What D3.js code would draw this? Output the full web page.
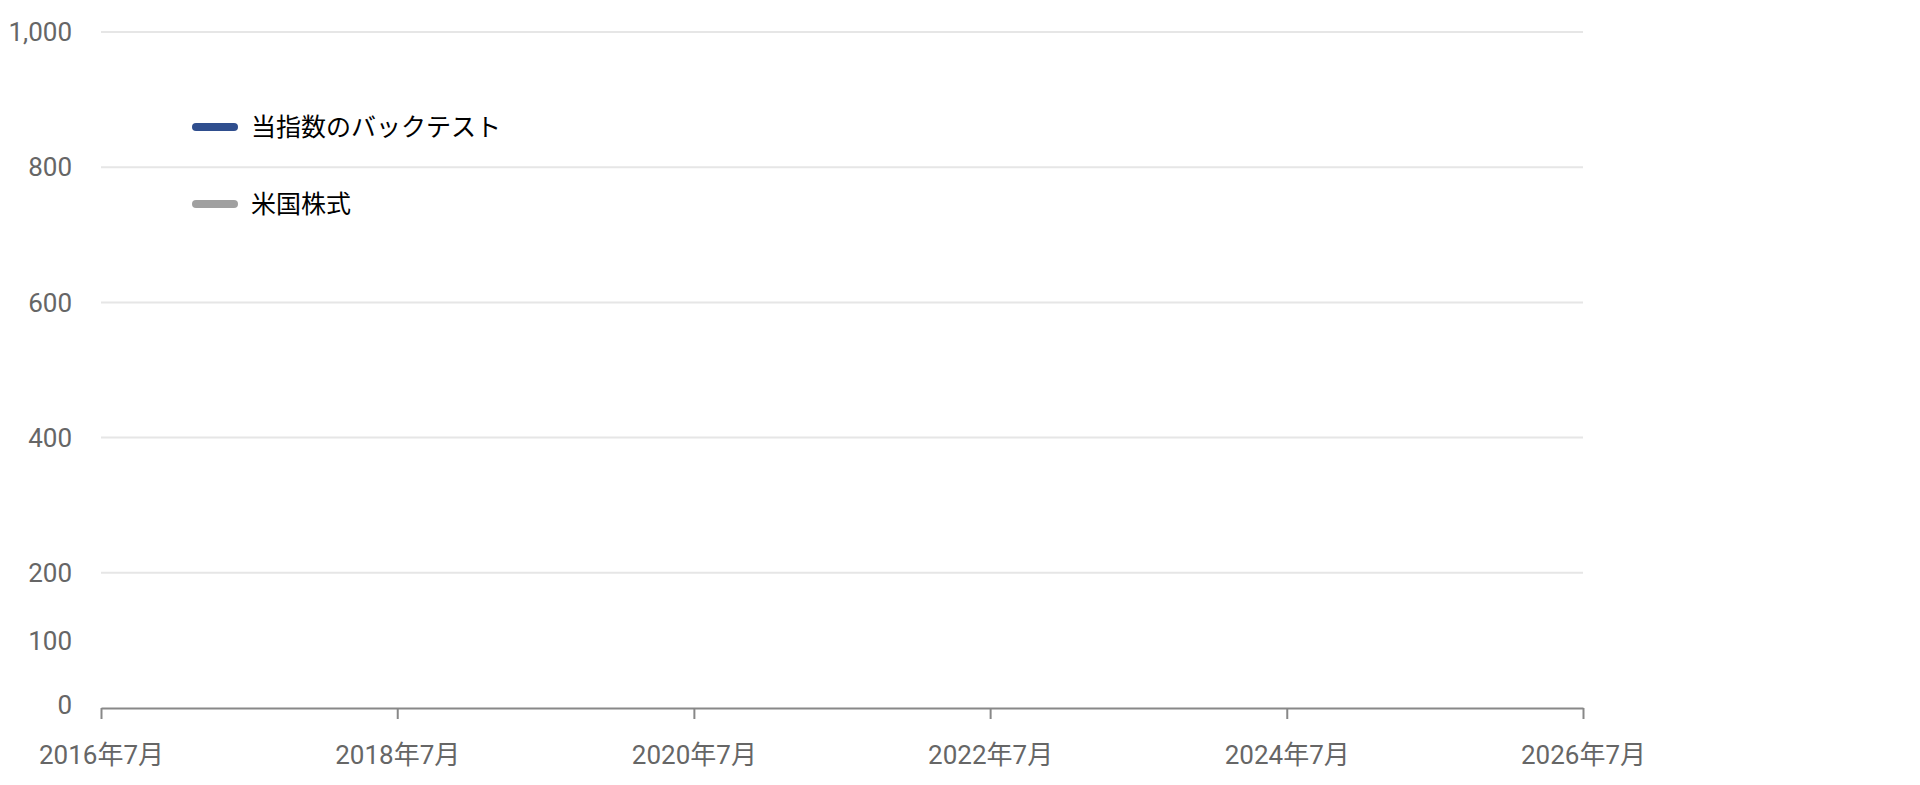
<!DOCTYPE html>
<html>
<head>
<meta charset="utf-8">
<script src="https://cdn.jsdelivr.net/npm/d3@7"></script>
<style>
  body { margin: 0; background: #fff; }
  svg { font-family: Roboto, "Noto Sans CJK JP", sans-serif; }
  .ylab, .xlab { fill: #666; font-size: 26px; }
  .legtext { fill: #000; font-size: 25px; }
</style>
</head>
<body>
<svg id="chart" width="1920" height="785"></svg>
<script>
// series shown in the legend (no line data is drawn in the picture)
const seriesNames = ["当指数のバックテスト", "米国株式"];
const seriesColors = ["#2f4e8e", "#a0a0a0"];
const dates = [];
const backtestValues = [];
const usStockValues = [];

const yTicks = [0, 100, 200, 400, 600, 800, 1000];
const yGrid = [200, 400, 600, 800, 1000];
const xTicks = ["2016-07", "2018-07", "2020-07", "2022-07", "2024-07", "2026-07"];

const svg = d3.select("#chart");
const parse = d3.timeParse("%Y-%m");

let x = d3.scaleTime()
    .domain([parse("2016-07"), parse("2026-07")])
    .range([101, 1583]);
let y = d3.scaleLinear()
    .domain([0, 1000])
    .range([708, 32]);

// grid
svg.append("g").selectAll("line")
    .data(yGrid)
    .join("line")
    .attr("x1", 101).attr("x2", 1583)
    .attr("y1", d => y(d)).attr("y2", d => y(d))
    .attr("stroke", "#e6e6e6")
    .attr("stroke-width", 2);

// y labels
svg.append("g").selectAll("text")
    .data(yTicks)
    .join("text")
    .classed("ylab", true)
    .attr("x", 72)
    .attr("y", d => y(d) - (d === 0 ? 3 : 0))
    .attr("dy", "0.35em")
    .attr("text-anchor", "end")
    .text(d => d3.format(",")(d));

// x axis
let xAxis = d3.axisBottom(x)
    .tickValues(xTicks.map(parse))
    .tickSize(11)
    .tickSizeOuter(0)
    .tickFormat(d => d3.timeFormat("%Y")(d) + "年" + (d.getMonth() + 1) + "月");
let gx = svg.append("g")
    .attr("transform", "translate(0," + y(0) + ")")
    .call(xAxis);
gx.select(".domain").attr("stroke", "#888").attr("stroke-width", 2);
gx.selectAll(".tick line").attr("stroke", "#888").attr("stroke-width", 2);
gx.selectAll(".tick text")
    .attr("class", "xlab")
    .attr("y", 47)
    .attr("dy", "0.35em")
    .style("font-size", "26px")
    .style("font-family", "Roboto, 'Noto Sans CJK JP', sans-serif")
    .attr("fill", "#666");

// lines (empty in the reference)
let line = d3.line()
    .x((d, i) => x(parse(dates[i])))
    .y(d => y(d));
[backtestValues, usStockValues].forEach((vals, i) => {
    svg.append("path")
        .datum(vals)
        .attr("fill", "none")
        .attr("stroke", seriesColors[i])
        .attr("stroke-width", 3)
        .attr("d", line);
});

// legend
let legend = svg.append("g").attr("transform", "translate(196,127)");
let items = legend.selectAll("g")
    .data(seriesNames)
    .join("g")
    .attr("transform", (d, i) => "translate(0," + i * 77 + ")");
items.append("line")
    .attr("x1", 0).attr("x2", 38)
    .attr("stroke", (d, i) => seriesColors[i])
    .attr("stroke-width", 8)
    .attr("stroke-linecap", "round");
items.append("text")
    .classed("legtext", true)
    .attr("x", 55)
    .attr("dy", "0.35em")
    .text(d => d);
</script>
</body>
</html>
